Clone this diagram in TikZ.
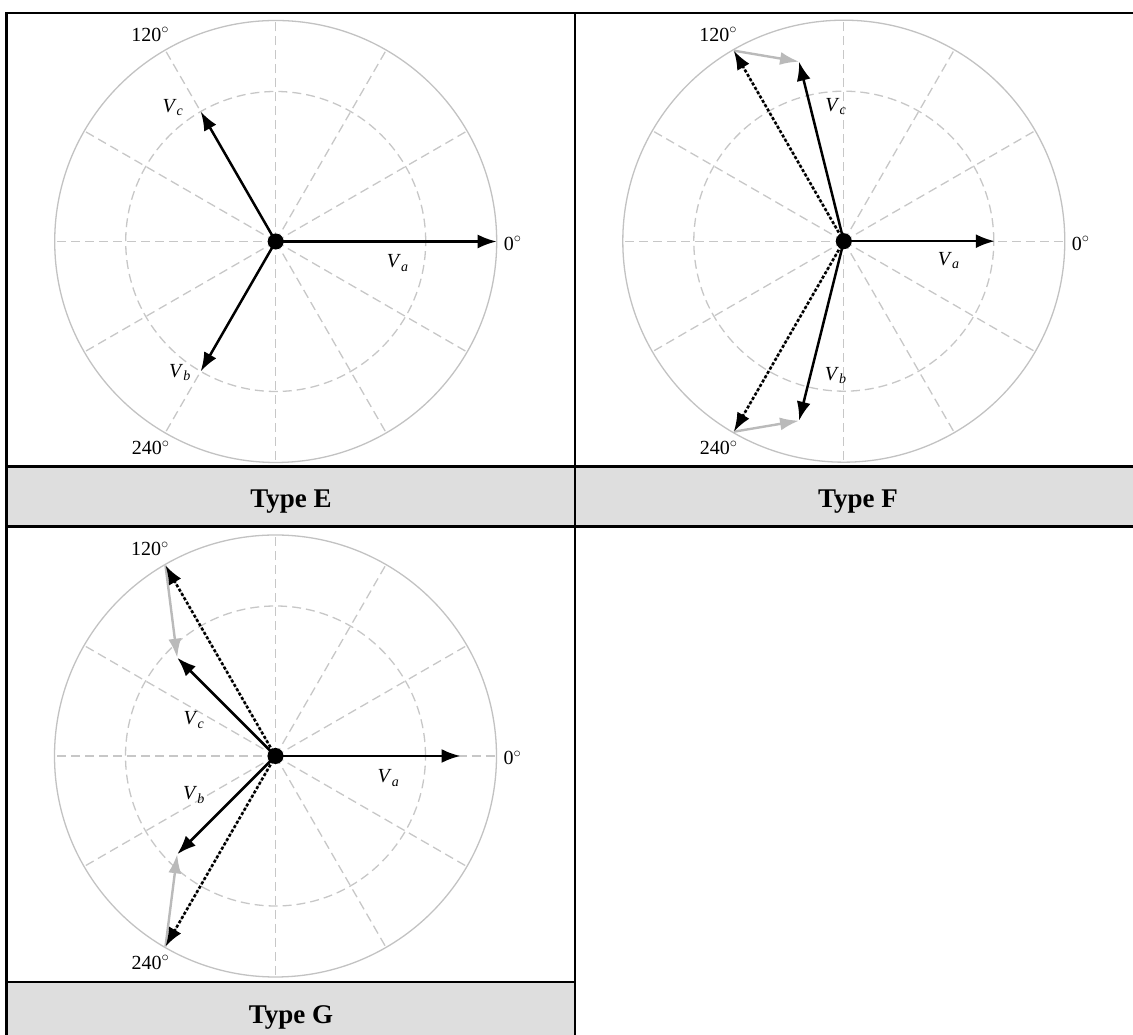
\documentclass[tikz,border=0pt]{standalone}
\usepackage{fontspec}
\setmainfont{Liberation Serif}
\usetikzlibrary{arrows.meta,calc}
\tikzset{
  rim/.style={draw=black!24,line width=1.3pt},
  spoke/.style={draw=black!22,line width=1.3pt,dash pattern=on 9pt off 5pt},
  phasor/.style={line width=2.5pt,-{Latex[length=19pt,width=14pt]}},
  prefault/.style={line width=2.6pt,dash pattern=on 3pt off 2pt,-{Latex[length=19pt,width=14pt]}},
  swing/.style={draw=black!27,line width=2.4pt,-{Latex[length=19pt,width=13pt]}},
  hub/.style={circle,fill=black,inner sep=0pt,minimum size=16pt},
  vlabel/.style={font=\fontsize{20}{24}\selectfont},
  dlabel/.style={font=\fontsize{20}{24}\selectfont},
  typelabel/.style={font=\fontsize{27}{32}\selectfont\bfseries,anchor=base},
  frame/.style={line width=2.6pt},
}
\newcommand{\volt}[1]{\textit{V}\textsubscript{\textit{#1}}}
\newcommand{\dg}[1]{#1$^{\circ}$}

\begin{document}
\begin{tikzpicture}[x=1pt,y=1pt]
\useasboundingbox (0,0) rectangle (1133,1035);
\fill[black!13] (6.7,508.3) rectangle (1133,568.3);
\fill[black!13] (6.7,0) rectangle (575,53);
\draw[frame] (6.7,0) -- (6.7,1022) -- (1133,1022);
\draw[frame] (6.7,568.3) -- (1133,568.3);
\draw[frame] (6.7,508.3) -- (1133,508.3);
\draw[frame] (6.7,53) -- (575,53);
\draw[frame] (575,0) -- (575,1022);

\coordinate (E) at (275.7,793.5);
\coordinate (F) at (843.8,793.8);
\coordinate (G) at (275.5,279);

% polar grids
\foreach \p in {E,F,G}{
  \draw[rim] (\p) circle (221pt);
  \draw[spoke] (\p) circle (150pt);
  \foreach \a in {0,30,...,330}
    \draw[spoke] (\p) -- ++(\a:221pt);
}

% Type E
\coordinate (Ea) at ($(E)+(0:221)$);
\coordinate (Eb) at ($(E)+(240:150)$);
\coordinate (Ec) at ($(E)+(120:150)$);
% Type F
\coordinate (Fa) at ($(F)+(0:151)$);
\coordinate (Fb) at ($(F)+(256:185)$);
\coordinate (Fc) at ($(F)+(104:185)$);
\coordinate (Fb0) at ($(F)+(240:220)$);
\coordinate (Fc0) at ($(F)+(120:220)$);
% Type G
\coordinate (Ga) at ($(G)+(0:185)$);
\coordinate (Gb) at ($(G)+(225:139)$);
\coordinate (Gc) at ($(G)+(135:139)$);
\coordinate (Gb0) at ($(G)+(240:220)$);
\coordinate (Gc0) at ($(G)+(120:220)$);

\draw[swing](Fc0)--(Fc);
\draw[swing](Fb0)--(Fb);
\draw[swing](Gc0)--(Gc);
\draw[swing](Gb0)--(Gb);
\draw[prefault](F)--(Fc0);
\draw[prefault](F)--(Fb0);
\draw[prefault](G)--(Gc0);
\draw[prefault](G)--(Gb0);
\draw[phasor](E)--(Ea);
\draw[phasor](E)--(Eb);
\draw[phasor](E)--(Ec);
\draw[phasor](F)--(Fa);
\draw[phasor](F)--(Fb);
\draw[phasor](F)--(Fc);
\draw[phasor](G)--(Ga);
\draw[phasor](G)--(Gb);
\draw[phasor](G)--(Gc);
\node[hub] (hE) at (E) {};
\node[hub] (hF) at (F) {};
\node[hub] (hG) at (G) {};

\node[vlabel] (lEa) at ($(E)+(122,-21.5)$) {\volt{a}};
\node[vlabel] (lEb) at ($(E)+(-95.7,-131.3)$) {\volt{b}};
\node[vlabel] (lEc) at ($(E)+(-102.7,133.7)$) {\volt{c}};
\node[vlabel] (lFa) at ($(F)+(105,-19)$) {\volt{a}};
\node[vlabel] (lFb) at ($(F)+(-8,-134)$) {\volt{b}};
\node[vlabel] (lFc) at ($(F)+(-8,134.6)$) {\volt{c}};
\node[vlabel] (lGa) at ($(G)+(113,-22)$) {\volt{a}};
\node[vlabel] (lGb) at ($(G)+(-81.5,-39)$) {\volt{b}};
\node[vlabel] (lGc) at ($(G)+(-81.5,36)$) {\volt{c}};

\foreach \p in {E,F,G}{
  \node[dlabel] (d0\p) at ($(\p)+(237,-2)$) {\dg{0}};
  \node[dlabel] (d120\p) at ($(\p)+(-125.5,207)$) {\dg{120}};
  \node[dlabel] (d240\p) at ($(\p)+(-125,-206.5)$) {\dg{240}};
}

\node[typelabel] (tE) at (291,527) {Type E};
\node[typelabel] (tF) at (858,527) {Type F};
\node[typelabel] (tG) at (291,11.7) {Type G};
\end{tikzpicture}
\end{document}
